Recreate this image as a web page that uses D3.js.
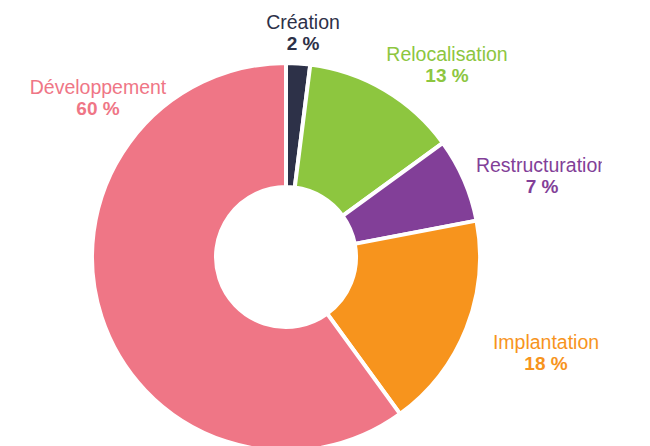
<!DOCTYPE html>
<html>
<head>
<meta charset="utf-8">
<script src="https://cdn.jsdelivr.net/npm/d3@7"></script>
<style>
  html, body { margin: 0; padding: 0; background: #fff; }
  svg { display: block; font-family: "Liberation Sans", Arial, sans-serif; }
</style>
</head>
<body>
<div id="chart"></div>
<script>
// slices, clockwise from 12 o'clock
var categories = ['Création', 'Relocalisation', 'Restructuration', 'Implantation', 'Développement'];
var values = [2, 13, 7, 18, 60];
var colors = ['#2d3148', '#8dc63f', '#823f98', '#f7941d', '#ef7686'];

// hand placed label anchors (centre x, baseline of the name line)
var labelAnchors = [[303, 29], [447, 61], [542, 172], [546, 349], [98, 94]];

var width = 650,
    height = 446,
    cx = 286,
    cy = 257,
    outerRadius = 194,
    innerRadius = 70;

var svg = d3.select('#chart')
            .append('svg')
            .attr('width', width)
            .attr('height', height);

// labels on the right are cut off at this x in the original
svg.append('clipPath')
   .attr('id', 'label-clip')
   .append('rect')
   .attr('x', 0)
   .attr('y', 0)
   .attr('width', 602)
   .attr('height', height);

var data = categories.map(function(c, i) {
  return { name: c, value: values[i], color: colors[i], anchor: labelAnchors[i] };
});

var pie = d3.pie()
            .sort(null)
            .value(function(d) { return d.value; });

var arc = d3.arc()
            .innerRadius(innerRadius)
            .outerRadius(outerRadius);

var g = svg.append('g')
           .attr('transform', 'translate(' + cx + ',' + cy + ')');

g.selectAll('path')
 .data(pie(data)).enter()
 .append('path')
 .attr('d', arc)
 .attr('fill', function(d) { return d.data.color; })
 .attr('stroke', '#fff')
 .attr('stroke-width', 4)
 .attr('stroke-linejoin', 'round');

var labels = svg.append('g')
                .attr('clip-path', 'url(#label-clip)')
                .selectAll('g')
                .data(data).enter()
                .append('g')
                .attr('transform', function(d) {
                  return 'translate(' + d.anchor[0] + ',' + d.anchor[1] + ')';
                });

labels.append('text')
      .attr('text-anchor', 'middle')
      .attr('font-size', 19.5)
      .attr('fill', function(d) { return d.color; })
      .text(function(d) { return d.name; });

labels.append('text')
      .attr('text-anchor', 'middle')
      .attr('y', 21)
      .attr('font-size', 19)
      .attr('font-weight', 'bold')
      .attr('fill', function(d) { return d.color; })
      .text(function(d) { return d.value + ' %'; });
</script>
</body>
</html>
